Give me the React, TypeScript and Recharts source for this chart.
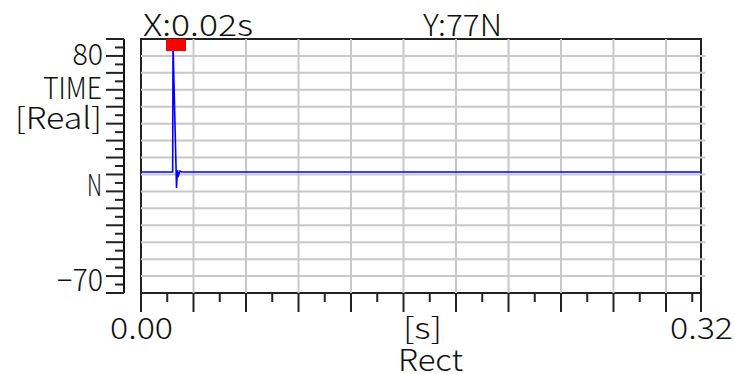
import React from 'react';
import {
  LineChart,
  Line,
  XAxis,
  YAxis,
  ReferenceLine,
  ReferenceArea,
  ReferenceDot,
} from 'recharts';

// waveform samples: time [s] and force [N]
const timeS = [0, 0.0181, 0.0183, 0.0203, 0.0208, 0.0214, 0.0223, 0.0233, 0.32];
const forceN = [1.5, 1.5, 77, -8, 2.5, -0.5, 2, 1.5, 1.5];

const cursorX = 0.02;
const cursorY = 77;

const xTicks = [
  0, 0.015, 0.03, 0.045, 0.06, 0.075, 0.09, 0.105, 0.12, 0.135, 0.15, 0.165,
  0.18, 0.195, 0.21, 0.225, 0.24, 0.255, 0.27, 0.285, 0.3, 0.315, 0.32,
];
const xGrid = [0.03, 0.06, 0.09, 0.12, 0.15, 0.18, 0.21, 0.24, 0.27, 0.3];
const xTickLabels: Record<string, string> = { '0': '0.00', '0.32': '0.32' };

const yTicks = [
  80, 75, 70, 65, 60, 55, 50, 45, 40, 35, 30, 25, 20, 15, 10, 5, 0, -5, -10,
  -15, -20, -25, -30, -35, -40, -45, -50, -55, -60, -65, -70,
];
const yGrid = [70, 60, 50, 40, 30, 20, 10, 0, -10, -20, -30, -40, -50, -60];
const yTickLabels: Record<string, string> = { '80': '80', '-70': '\u221270' };

const data = timeS.map((t, i) => ({ t, n: forceN[i] }));

const FONT = '"Noto Sans CJK JP", "Noto Sans", sans-serif';
const GRID = '#c8c8c8';

const Txt = ({ x, y, w, children }: any) => (
  <text
    x={x}
    y={y}
    fontFamily={FONT}
    fontSize={30}
    fontWeight={300}
    fill="#111"
    textLength={w}
    lengthAdjust="spacingAndGlyphs"
  >
    {children}
  </text>
);

const XTick = (props: any) => {
  const { x, y, payload, index } = props;
  const long = index % 2 === 0;
  const label = xTickLabels[String(payload.value)];
  return (
    <g>
      <line x1={x} x2={x} y1={y} y2={y + (long ? 19 : 9)} stroke="#222" strokeWidth={2} />
      {label && (
        <Txt x={x - 31} y={y + 46} w={63}>
          {label}
        </Txt>
      )}
    </g>
  );
};

const YTick = (props: any) => {
  const { x, y, payload, index } = props;
  const long = index % 2 === 0;
  const label = yTickLabels[String(payload.value)];
  const w = label ? label.length * 15.3 : 0;
  const top = payload.value > 0;
  return (
    <g>
      <line x1={x - (long ? 18 : 9)} x2={x} y1={y} y2={y} stroke="#222" strokeWidth={2} />
      {label && (
        <Txt x={x - 21 - w} y={top ? y + 26 : y - 2} w={w}>
          {label}
        </Txt>
      )}
    </g>
  );
};

const CursorMark = (props: any) => (
  <rect x={props.cx - 10} y={props.cy} width={20} height={12} fill="#ff0000" />
);

export default function App() {
  return (
    <div style={{ position: 'absolute', left: 0, top: 0, width: 735, height: 374, background: '#fff' }}>
      <LineChart
        width={735}
        height={374}
        data={data}
        margin={{ top: 39, right: 34, bottom: 41, left: 0 }}
      >
        <XAxis
          dataKey="t"
          type="number"
          domain={[0, 0.32]}
          ticks={xTicks}
          interval={0}
          padding={{ left: 17, right: 0 }}
          axisLine={false}
          tickLine={false}
          tickSize={0}
          tickMargin={0}
          height={40}
          tick={<XTick />}
        />
        <YAxis
          type="number"
          domain={[-70, 80]}
          ticks={yTicks}
          interval={0}
          width={124}
          axisLine={{ stroke: '#111', strokeWidth: 2 }}
          tickLine={false}
          tickSize={0}
          tickMargin={0}
          tick={<YTick />}
        />
        {xGrid.map((v) => (
          <ReferenceLine key={`vx${v}`} x={v} stroke={GRID} strokeWidth={2} />
        ))}
        {yGrid.map((v) => (
          <ReferenceLine
            key={`hy${v}`}
            segment={[
              { x: 0, y: v },
              { x: 0.3225, y: v },
            ]}
            ifOverflow="visible"
            stroke={GRID}
            strokeWidth={2}
          />
        ))}
        <ReferenceArea
          x1={0}
          x2={0.32}
          y1={-70}
          y2={80}
          fill="none"
          stroke="#222"
          strokeWidth={2}
          ifOverflow="visible"
        />
        <Line
          type="linear"
          dataKey="n"
          stroke="#0000ff"
          strokeWidth={1.6}
          dot={false}
          isAnimationActive={false}
        />
        <ReferenceDot x={cursorX} y={80} shape={<CursorMark />} ifOverflow="visible" />
      </LineChart>
      <svg
        width={735}
        height={374}
        style={{ position: 'absolute', left: 0, top: 0, pointerEvents: 'none' }}
      >
        <Txt x={143} y={36} w={110}>{`X:${cursorX.toFixed(2)}s`}</Txt>
        <Txt x={423} y={36} w={79}>{`Y:${cursorY}N`}</Txt>
        <Txt x={43} y={99} w={59}>TIME</Txt>
        <Txt x={15} y={129} w={87}>[Real]</Txt>
        <Txt x={87} y={196} w={15}>N</Txt>
        <Txt x={403} y={339} w={39}>[s]</Txt>
        <Txt x={398} y={371} w={65}>Rect</Txt>
      </svg>
    </div>
  );
}
